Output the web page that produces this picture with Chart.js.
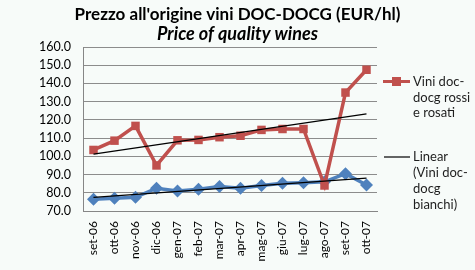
<!DOCTYPE html>
<html>
<head>
<meta charset="utf-8">
<script src="https://cdn.jsdelivr.net/npm/chart.js@4"></script>
<style>
  html, body { margin: 0; padding: 0; background: #f7fbf9; }
  #wrap { width: 475px; height: 270px; }
</style>
</head>
<body>
<div id="wrap"><canvas id="wine-chart" width="475" height="270"></canvas></div>
<script>
// months, set-06 .. ott-07
const months = ['set-06', 'ott-06', 'nov-06', 'dic-06', 'gen-07', 'feb-07', 'mar-07',
  'apr-07', 'mag-07', 'giu-07', 'lug-07', 'ago-07', 'set-07', 'ott-07'];

// Vini doc-docg rossi e rosati
const rossi = [103.5, 108.6, 116.7, 95.0, 108.8, 109.0, 110.5, 111.3, 114.5, 115.0, 115.0, 84.0, 135.0, 147.5];
// Vini doc-docg bianchi
const bianchi = [76.5, 77.0, 77.5, 82.5, 81.0, 82.0, 83.5, 82.5, 84.0, 85.2, 85.5, 86.0, 90.5, 84.3];

// trendline ends (first and last month)
const trendRossi = [101.2, null, null, null, null, null, null, null, null, null, null, null, null, 123.3];
const trendBianchi = [77.5, null, null, null, null, null, null, null, null, null, null, null, null, 88.0];

const yTicks = { min: 70, max: 160, step: 10 };

const titleText = "Prezzo all'origine vini DOC-DOCG (EUR/hl)";
const subtitleText = 'Price of quality wines';

const RED = '#c0504d';
const BLUE = '#4f81bd';
const FONT = 'Lato, "Liberation Sans", sans-serif';

// titles centred on the whole picture, not on the plot
const titles = {
  id: 'titles',
  afterDraw(chart) {
    const ctx = chart.ctx;
    ctx.save();
    ctx.fillStyle = '#000';
    ctx.textAlign = 'center';
    ctx.textBaseline = 'alphabetic';
    ctx.font = 'bold 17px ' + FONT;
    ctx.fillText(titleText, chart.width / 2, 20);
    ctx.font = 'italic bold 18px ' + FONT;
    ctx.fillText(subtitleText, chart.width / 2, 40);
    ctx.restore();
  }
};

// legend on the right, only the two entries that show in the original
const sideLegend = {
  id: 'sideLegend',
  afterDraw(chart) {
    const ctx = chart.ctx;
    ctx.save();
    ctx.font = '13px ' + FONT;
    ctx.textBaseline = 'middle';
    ctx.textAlign = 'left';

    // entry 1
    ctx.strokeStyle = RED;
    ctx.lineWidth = 3;
    ctx.beginPath();
    ctx.moveTo(383, 81.5);
    ctx.lineTo(410, 81.5);
    ctx.stroke();
    ctx.fillStyle = RED;
    ctx.fillRect(392, 77, 9, 9);
    ctx.fillStyle = '#1e1e1e';
    ['Vini doc-', 'docg rossi', 'e rosati'].forEach((t, i) => ctx.fillText(t, 413, 82 + i * 15.5));

    // entry 2
    ctx.strokeStyle = '#000';
    ctx.lineWidth = 1.2;
    ctx.beginPath();
    ctx.moveTo(384, 157);
    ctx.lineTo(410, 157);
    ctx.stroke();
    ['Linear', '(Vini doc-', 'docg', 'bianchi)'].forEach((t, i) => ctx.fillText(t, 413, 157 + i * 16));
    ctx.restore();
  }
};

const ctx = document.getElementById('wine-chart').getContext('2d');
new Chart(ctx, {
  type: 'line',
  data: {
    labels: months,
    datasets: [
      { label: 'Linear (Vini doc-docg rossi e rosati)', data: trendRossi, spanGaps: true,
        borderColor: '#000', borderWidth: 1.3, pointRadius: 0, order: 0 },
      { label: 'Linear (Vini doc-docg bianchi)', data: trendBianchi, spanGaps: true,
        borderColor: '#000', borderWidth: 1.3, pointRadius: 0, order: 0 },
      { label: 'Vini doc-docg rossi e rosati', data: rossi, borderColor: RED, backgroundColor: RED,
        borderWidth: 3.5, pointStyle: 'rect', pointRadius: 6, pointBorderWidth: 0, order: 1 },
      { label: 'Vini doc-docg bianchi', data: bianchi, borderColor: BLUE, backgroundColor: BLUE,
        borderWidth: 3.5, pointStyle: 'rectRot', pointRadius: 6.5, pointBorderWidth: 0, order: 2 },
    ],
  },
  options: {
    responsive: false,
    animation: false,
    layout: { padding: { left: 0, right: 98, top: 47, bottom: 0 } },
    plugins: {
      legend: { display: false },
      tooltip: { enabled: false },
    },
    scales: {
      x: {
        offset: true,
        grid: { display: false, drawTicks: false },
        border: { color: '#868686', width: 1 },
        ticks: {
          color: '#000', maxRotation: 90, minRotation: 90, autoSkip: false, padding: 10,
          font: { family: FONT, size: 12 },
        },
        afterFit(scale) { scale.height = 59; },
      },
      y: {
        min: yTicks.min,
        max: yTicks.max,
        grid: { color: '#8c8c8c', drawTicks: false },
        border: { color: '#868686', width: 1 },
        ticks: {
          stepSize: yTicks.step, color: '#000', padding: 12, autoSkip: false,
          font: { family: FONT, size: 12.5 },
          callback: (v) => v.toFixed(1),
        },
        afterFit(scale) { scale.width = 83; },
      },
    },
  },
  plugins: [sideLegend, titles],
});
</script>
</body>
</html>
